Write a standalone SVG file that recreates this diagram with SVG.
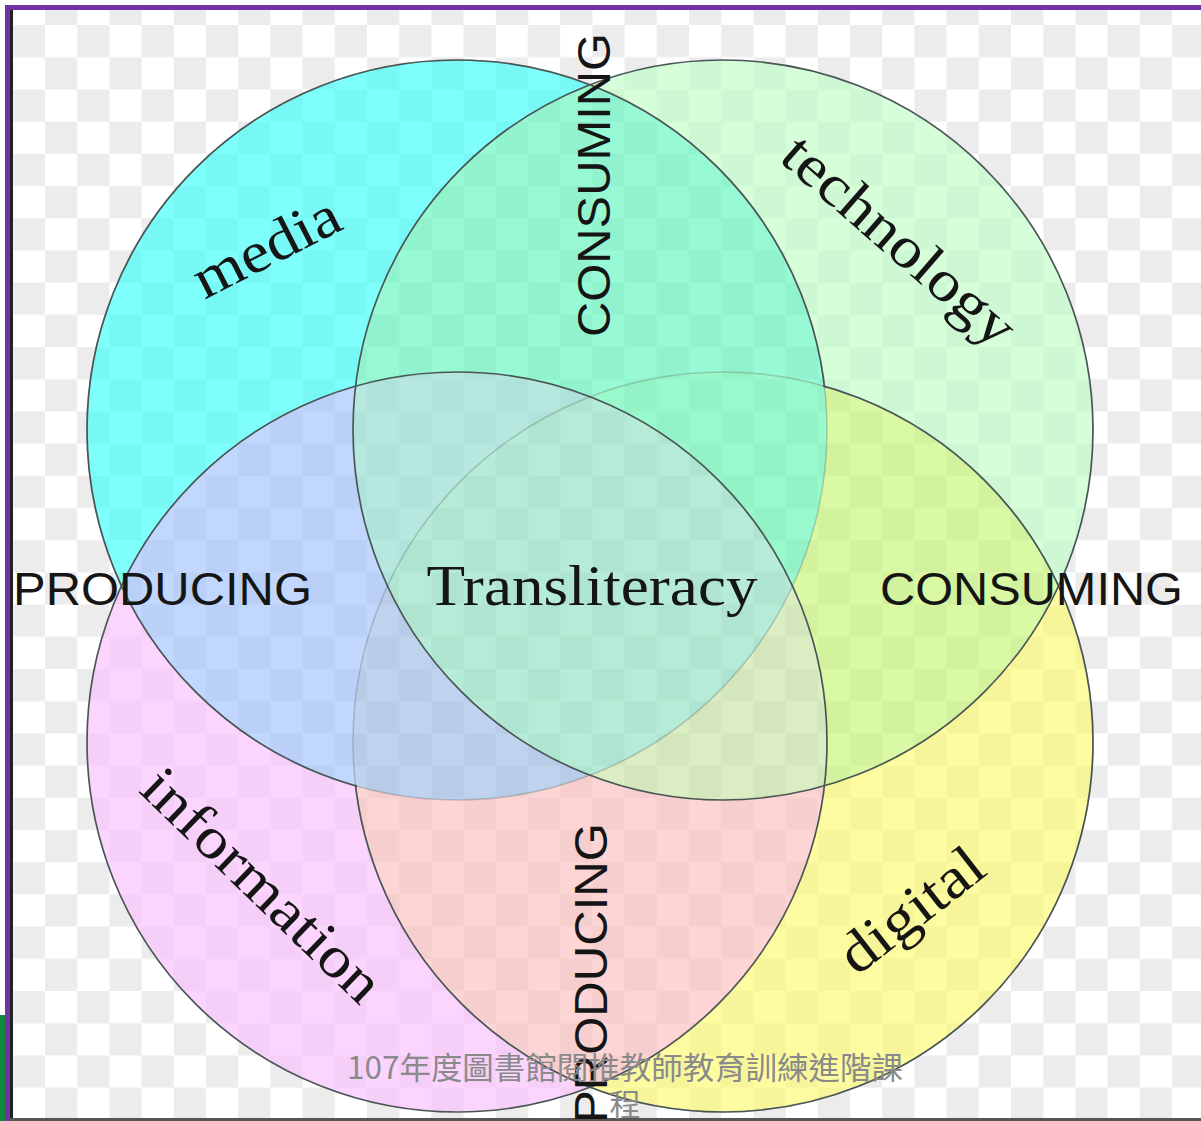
<svg xmlns="http://www.w3.org/2000/svg" width="1201" height="1121" viewBox="0 0 1201 1121">
<style>
.serif{font-family:"Liberation Serif","Times New Roman",serif;font-size:58px;fill:#151515}
.sans{font-family:"Liberation Sans",Arial,sans-serif;font-size:46px;fill:#151515}
.foot{font-family:"Noto Sans CJK TC","Noto Sans",sans-serif;font-size:31px;fill:#8a8a8a}
.edge{fill:none;stroke:#4a5656;stroke-width:1.7}
.faint{fill:none;stroke:#4a5656;stroke-width:1.5;stroke-opacity:0.28}
</style>
<defs>
<pattern id="checker" patternUnits="userSpaceOnUse" x="45" y="25" width="64.4" height="64.4">
<rect width="64.4" height="64.4" fill="#ffffff"/>
<rect x="32.2" y="0" width="32.2" height="32.2" fill="#ececec"/>
<rect x="0" y="32.2" width="32.2" height="32.2" fill="#ececec"/>
</pattern>
<circle id="cirM" cx="457" cy="430" r="370"/>
<circle id="cirT" cx="723" cy="430" r="370"/>
<circle id="cirI" cx="457" cy="742" r="370"/>
<circle id="cirD" cx="723" cy="742" r="370"/>
<clipPath id="cM"><use href="#cirM"/></clipPath>
<clipPath id="cT"><use href="#cirT"/></clipPath>
<clipPath id="cI"><use href="#cirI"/></clipPath>
<clipPath id="cD"><use href="#cirD"/></clipPath>
<mask id="outD" maskUnits="userSpaceOnUse" x="0" y="0" width="1201" height="1121">
<rect width="1201" height="1121" fill="#fff"/>
<circle cx="723" cy="742" r="369" fill="#000"/>
</mask>
<mask id="outM" maskUnits="userSpaceOnUse" x="0" y="0" width="1201" height="1121">
<rect width="1201" height="1121" fill="#fff"/>
<circle cx="457" cy="430" r="369" fill="#000"/>
</mask>
</defs>

<g id="frame">
<rect width="1201" height="1121" fill="#ffffff"/>
<rect x="13" y="10" width="1188" height="1108" fill="url(#checker)"/>
<rect x="5" y="5" width="1196" height="5" fill="#7232a3"/>
<rect x="5" y="5" width="5" height="1116" fill="#7232a3"/>
<rect x="10" y="10" width="3" height="1111" fill="#222222"/>
<rect x="10" y="1118" width="1191" height="3" fill="#555555"/>
<rect x="0" y="1015" width="5" height="106" fill="#13893e"/>
</g>

<g id="fills" opacity="0.65">
<use href="#cirM" fill="#3afffb"/>
<use href="#cirT" fill="#bffec6"/>
<use href="#cirI" fill="#fbc0ff"/>
<use href="#cirD" fill="#fcfb6f"/>
<g clip-path="url(#cM)"><use href="#cirT" fill="#62f6bf"/></g>
<g clip-path="url(#cM)"><use href="#cirI" fill="#a0c2fc"/></g>
<g clip-path="url(#cT)"><use href="#cirD" fill="#c5f675"/></g>
<g clip-path="url(#cI)"><use href="#cirD" fill="#fcbfbf"/></g>
<g clip-path="url(#cM)"><g clip-path="url(#cT)"><use href="#cirI" fill="#90ddd1"/></g></g>
<g clip-path="url(#cM)"><g clip-path="url(#cT)"><use href="#cirD" fill="#65f6b2"/></g></g>
<g clip-path="url(#cM)"><g clip-path="url(#cI)"><use href="#cirD" fill="#9dbce7"/></g></g>
<g clip-path="url(#cT)"><g clip-path="url(#cI)"><use href="#cirD" fill="#c8e4a3"/></g></g>
<g clip-path="url(#cM)"><g clip-path="url(#cT)"><g clip-path="url(#cI)"><use href="#cirD" fill="#90e2c2"/></g></g></g>
</g>

<g id="connectors"></g>

<g id="node-media">
<use href="#cirM" class="faint"/>
<use href="#cirM" class="edge" mask="url(#outD)"/>
<text class="serif" text-anchor="middle" transform="translate(275,264) rotate(-27)" textLength="158" lengthAdjust="spacingAndGlyphs">media</text>
</g>
<g id="node-digital">
<use href="#cirD" class="faint"/>
<use href="#cirD" class="edge" mask="url(#outM)"/>
<text class="serif" text-anchor="middle" transform="translate(923,925) rotate(-38)" textLength="168" lengthAdjust="spacingAndGlyphs">digital</text>
</g>
<g id="node-technology">
<use href="#cirT" class="edge"/>
<text class="serif" text-anchor="middle" transform="translate(887,255) rotate(41)" textLength="290" lengthAdjust="spacingAndGlyphs">technology</text>
</g>
<g id="node-information">
<use href="#cirI" class="edge"/>
<text class="serif" text-anchor="middle" transform="translate(249,899) rotate(44)" textLength="310" lengthAdjust="spacingAndGlyphs">information</text>
</g>
<g id="node-transliteracy">
<text class="serif" x="592" y="605" text-anchor="middle" textLength="331" lengthAdjust="spacingAndGlyphs">Transliteracy</text>
</g>

<g id="axis-labels">
<text class="sans" x="13" y="605" textLength="299" lengthAdjust="spacingAndGlyphs">PRODUCING</text>
<text class="sans" x="880" y="605" textLength="303" lengthAdjust="spacingAndGlyphs">CONSUMING</text>
<text class="sans" transform="translate(610,337) rotate(-90)" textLength="304" lengthAdjust="spacingAndGlyphs">CONSUMING</text>
<text class="sans" transform="translate(607,1123) rotate(-90)" textLength="300" lengthAdjust="spacingAndGlyphs">PRODUCING</text>
</g>

<g id="footer">
<text class="foot" x="625" y="1079" text-anchor="middle" textLength="556" lengthAdjust="spacingAndGlyphs">107年度圖書館閱推教師教育訓練進階課</text>
<text class="foot" x="625" y="1116" text-anchor="middle">程</text>
</g>
</svg>
